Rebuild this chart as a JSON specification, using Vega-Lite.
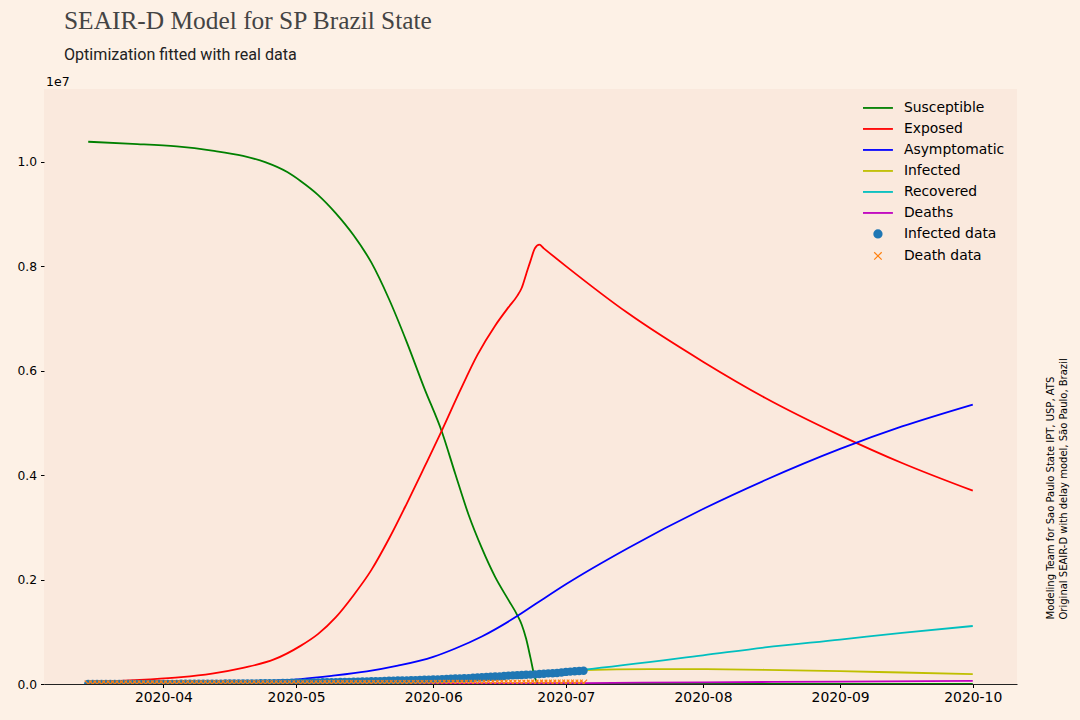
{
  "$schema": "https://vega.github.io/schema/vega-lite/v6.json",
  "width": 973,
  "height": 595,
  "autosize": {"type": "none"},
  "padding": {"left": 44, "top": 89, "right": 63, "bottom": 36},
  "background": "#fdf1e6",
  "config": {
    "view": {"fill": "#fae9dd", "stroke": null},
    "font": "DejaVu Sans",
    "axis": {"grid": false, "labelFont": "DejaVu Sans", "labelColor": "#000", "tickColor": "#000", "tickSize": 3.5, "tickWidth": 1}
  },
  "title": {
    "text": "SEAIR-D Model for SP Brazil State",
    "subtitle": "Optimization fitted with real data",
    "anchor": "start",
    "frame": "group",
    "dx": 20,
    "dy": -0.5,
    "offset": 12,
    "font": "Liberation Serif",
    "fontSize": 25.4,
    "fontWeight": "normal",
    "color": "#444444",
    "subtitleFont": "Roboto",
    "subtitleFontSize": 16.1,
    "subtitleColor": "#222222",
    "subtitlePadding": 13
  },
  "datasets": {
    "model": [
      {"date": "2020-03-15", "series": "Susceptible", "value": 10380000},
      {"date": "2020-03-25", "series": "Susceptible", "value": 10340000},
      {"date": "2020-04-04", "series": "Susceptible", "value": 10290000},
      {"date": "2020-04-12", "series": "Susceptible", "value": 10210000},
      {"date": "2020-04-19", "series": "Susceptible", "value": 10110000},
      {"date": "2020-04-24", "series": "Susceptible", "value": 9990000},
      {"date": "2020-04-29", "series": "Susceptible", "value": 9800000},
      {"date": "2020-05-02", "series": "Susceptible", "value": 9630000},
      {"date": "2020-05-06", "series": "Susceptible", "value": 9360000},
      {"date": "2020-05-10", "series": "Susceptible", "value": 9010000},
      {"date": "2020-05-14", "series": "Susceptible", "value": 8590000},
      {"date": "2020-05-18", "series": "Susceptible", "value": 8070000},
      {"date": "2020-05-22", "series": "Susceptible", "value": 7370000},
      {"date": "2020-05-26", "series": "Susceptible", "value": 6550000},
      {"date": "2020-05-30", "series": "Susceptible", "value": 5660000},
      {"date": "2020-06-03", "series": "Susceptible", "value": 4820000},
      {"date": "2020-06-06", "series": "Susceptible", "value": 4020000},
      {"date": "2020-06-09", "series": "Susceptible", "value": 3240000},
      {"date": "2020-06-12", "series": "Susceptible", "value": 2600000},
      {"date": "2020-06-15", "series": "Susceptible", "value": 2050000},
      {"date": "2020-06-18", "series": "Susceptible", "value": 1610000},
      {"date": "2020-06-20", "series": "Susceptible", "value": 1320000},
      {"date": "2020-06-21", "series": "Susceptible", "value": 1140000},
      {"date": "2020-06-22", "series": "Susceptible", "value": 870000},
      {"date": "2020-06-23", "series": "Susceptible", "value": 500000},
      {"date": "2020-06-24", "series": "Susceptible", "value": 120000},
      {"date": "2020-06-25", "series": "Susceptible", "value": 0},
      {"date": "2020-06-26", "series": "Susceptible", "value": 0},
      {"date": "2020-07-15", "series": "Susceptible", "value": 0},
      {"date": "2020-08-15", "series": "Susceptible", "value": 0},
      {"date": "2020-10-01", "series": "Susceptible", "value": 0},

      {"date": "2020-03-15", "series": "Exposed", "value": 40000},
      {"date": "2020-03-22", "series": "Exposed", "value": 57000},
      {"date": "2020-03-29", "series": "Exposed", "value": 87000},
      {"date": "2020-04-05", "series": "Exposed", "value": 130000},
      {"date": "2020-04-12", "series": "Exposed", "value": 200000},
      {"date": "2020-04-19", "series": "Exposed", "value": 310000},
      {"date": "2020-04-26", "series": "Exposed", "value": 470000},
      {"date": "2020-05-02", "series": "Exposed", "value": 730000},
      {"date": "2020-05-06", "series": "Exposed", "value": 960000},
      {"date": "2020-05-10", "series": "Exposed", "value": 1280000},
      {"date": "2020-05-14", "series": "Exposed", "value": 1700000},
      {"date": "2020-05-18", "series": "Exposed", "value": 2180000},
      {"date": "2020-05-22", "series": "Exposed", "value": 2780000},
      {"date": "2020-05-26", "series": "Exposed", "value": 3450000},
      {"date": "2020-05-30", "series": "Exposed", "value": 4150000},
      {"date": "2020-06-03", "series": "Exposed", "value": 4860000},
      {"date": "2020-06-07", "series": "Exposed", "value": 5600000},
      {"date": "2020-06-11", "series": "Exposed", "value": 6300000},
      {"date": "2020-06-15", "series": "Exposed", "value": 6860000},
      {"date": "2020-06-18", "series": "Exposed", "value": 7210000},
      {"date": "2020-06-20", "series": "Exposed", "value": 7430000},
      {"date": "2020-06-21", "series": "Exposed", "value": 7580000},
      {"date": "2020-06-22", "series": "Exposed", "value": 7840000},
      {"date": "2020-06-23", "series": "Exposed", "value": 8100000},
      {"date": "2020-06-24", "series": "Exposed", "value": 8340000},
      {"date": "2020-06-25", "series": "Exposed", "value": 8410000},
      {"date": "2020-06-26", "series": "Exposed", "value": 8340000},
      {"date": "2020-07-01", "series": "Exposed", "value": 8000000},
      {"date": "2020-07-15", "series": "Exposed", "value": 7100000},
      {"date": "2020-08-01", "series": "Exposed", "value": 6170000},
      {"date": "2020-08-15", "series": "Exposed", "value": 5480000},
      {"date": "2020-09-01", "series": "Exposed", "value": 4760000},
      {"date": "2020-09-15", "series": "Exposed", "value": 4230000},
      {"date": "2020-10-01", "series": "Exposed", "value": 3700000},

      {"date": "2020-03-15", "series": "Asymptomatic", "value": 0},
      {"date": "2020-04-01", "series": "Asymptomatic", "value": 8000},
      {"date": "2020-04-15", "series": "Asymptomatic", "value": 30000},
      {"date": "2020-05-02", "series": "Asymptomatic", "value": 95000},
      {"date": "2020-05-09", "series": "Asymptomatic", "value": 155000},
      {"date": "2020-05-17", "series": "Asymptomatic", "value": 240000},
      {"date": "2020-05-24", "series": "Asymptomatic", "value": 350000},
      {"date": "2020-06-01", "series": "Asymptomatic", "value": 520000},
      {"date": "2020-06-06", "series": "Asymptomatic", "value": 680000},
      {"date": "2020-06-12", "series": "Asymptomatic", "value": 910000},
      {"date": "2020-06-20", "series": "Asymptomatic", "value": 1300000},
      {"date": "2020-06-25", "series": "Asymptomatic", "value": 1580000},
      {"date": "2020-07-01", "series": "Asymptomatic", "value": 1910000},
      {"date": "2020-07-15", "series": "Asymptomatic", "value": 2600000},
      {"date": "2020-08-01", "series": "Asymptomatic", "value": 3350000},
      {"date": "2020-08-15", "series": "Asymptomatic", "value": 3900000},
      {"date": "2020-09-01", "series": "Asymptomatic", "value": 4500000},
      {"date": "2020-09-15", "series": "Asymptomatic", "value": 4930000},
      {"date": "2020-10-01", "series": "Asymptomatic", "value": 5350000},

      {"date": "2020-03-15", "series": "Infected", "value": 0},
      {"date": "2020-04-01", "series": "Infected", "value": 2000},
      {"date": "2020-04-15", "series": "Infected", "value": 9000},
      {"date": "2020-05-01", "series": "Infected", "value": 24000},
      {"date": "2020-05-15", "series": "Infected", "value": 45000},
      {"date": "2020-06-01", "series": "Infected", "value": 86000},
      {"date": "2020-06-15", "series": "Infected", "value": 142000},
      {"date": "2020-07-01", "series": "Infected", "value": 231000},
      {"date": "2020-07-05", "series": "Infected", "value": 268000},
      {"date": "2020-07-20", "series": "Infected", "value": 285000},
      {"date": "2020-08-01", "series": "Infected", "value": 284000},
      {"date": "2020-08-15", "series": "Infected", "value": 272000},
      {"date": "2020-09-01", "series": "Infected", "value": 245000},
      {"date": "2020-09-15", "series": "Infected", "value": 220000},
      {"date": "2020-10-01", "series": "Infected", "value": 190000},

      {"date": "2020-03-15", "series": "Recovered", "value": 0},
      {"date": "2020-04-01", "series": "Recovered", "value": 500},
      {"date": "2020-04-15", "series": "Recovered", "value": 3000},
      {"date": "2020-05-01", "series": "Recovered", "value": 10000},
      {"date": "2020-05-15", "series": "Recovered", "value": 28000},
      {"date": "2020-06-01", "series": "Recovered", "value": 70000},
      {"date": "2020-06-15", "series": "Recovered", "value": 140000},
      {"date": "2020-07-01", "series": "Recovered", "value": 240000},
      {"date": "2020-07-05", "series": "Recovered", "value": 275000},
      {"date": "2020-08-01", "series": "Recovered", "value": 550000},
      {"date": "2020-08-15", "series": "Recovered", "value": 700000},
      {"date": "2020-09-01", "series": "Recovered", "value": 850000},
      {"date": "2020-09-15", "series": "Recovered", "value": 980000},
      {"date": "2020-10-01", "series": "Recovered", "value": 1110000},

      {"date": "2020-03-15", "series": "Deaths", "value": 0},
      {"date": "2020-04-01", "series": "Deaths", "value": 200},
      {"date": "2020-05-01", "series": "Deaths", "value": 2500},
      {"date": "2020-06-01", "series": "Deaths", "value": 8000},
      {"date": "2020-07-01", "series": "Deaths", "value": 16000},
      {"date": "2020-07-05", "series": "Deaths", "value": 18000},
      {"date": "2020-08-01", "series": "Deaths", "value": 32000},
      {"date": "2020-09-01", "series": "Deaths", "value": 46000},
      {"date": "2020-10-01", "series": "Deaths", "value": 60000}
    ],
    "obs": [
      {"date": "2020-03-15", "cases": 100, "deaths": 0},
      {"date": "2020-03-16", "cases": 120, "deaths": 0},
      {"date": "2020-03-17", "cases": 130, "deaths": 1},
      {"date": "2020-03-18", "cases": 190, "deaths": 4},
      {"date": "2020-03-19", "cases": 230, "deaths": 7},
      {"date": "2020-03-20", "cases": 320, "deaths": 9},
      {"date": "2020-03-21", "cases": 370, "deaths": 15},
      {"date": "2020-03-22", "cases": 500, "deaths": 22},
      {"date": "2020-03-23", "cases": 600, "deaths": 30},
      {"date": "2020-03-24", "cases": 650, "deaths": 40},
      {"date": "2020-03-25", "cases": 690, "deaths": 48},
      {"date": "2020-03-26", "cases": 840, "deaths": 58},
      {"date": "2020-03-27", "cases": 980, "deaths": 68},
      {"date": "2020-03-28", "cases": 1130, "deaths": 84},
      {"date": "2020-03-29", "cases": 1160, "deaths": 98},
      {"date": "2020-03-30", "cases": 1220, "deaths": 113},
      {"date": "2020-03-31", "cases": 1870, "deaths": 136},
      {"date": "2020-04-01", "cases": 2380, "deaths": 164},
      {"date": "2020-04-02", "cases": 2800, "deaths": 188},
      {"date": "2020-04-03", "cases": 3240, "deaths": 219},
      {"date": "2020-04-04", "cases": 3580, "deaths": 260},
      {"date": "2020-04-05", "cases": 3700, "deaths": 275},
      {"date": "2020-04-06", "cases": 3900, "deaths": 304},
      {"date": "2020-04-07", "cases": 4540, "deaths": 371},
      {"date": "2020-04-08", "cases": 5370, "deaths": 428},
      {"date": "2020-04-09", "cases": 5980, "deaths": 496},
      {"date": "2020-04-10", "cases": 6000, "deaths": 540},
      {"date": "2020-04-11", "cases": 6580, "deaths": 560},
      {"date": "2020-04-12", "cases": 6740, "deaths": 588},
      {"date": "2020-04-13", "cases": 7010, "deaths": 608},
      {"date": "2020-04-14", "cases": 7500, "deaths": 695},
      {"date": "2020-04-15", "cases": 8800, "deaths": 778},
      {"date": "2020-04-16", "cases": 9300, "deaths": 853},
      {"date": "2020-04-17", "cases": 10200, "deaths": 928},
      {"date": "2020-04-18", "cases": 11100, "deaths": 991},
      {"date": "2020-04-19", "cases": 11400, "deaths": 1015},
      {"date": "2020-04-20", "cases": 11700, "deaths": 1037},
      {"date": "2020-04-21", "cases": 12300, "deaths": 1093},
      {"date": "2020-04-22", "cases": 12700, "deaths": 1134},
      {"date": "2020-04-23", "cases": 13400, "deaths": 1206},
      {"date": "2020-04-24", "cases": 15200, "deaths": 1345},
      {"date": "2020-04-25", "cases": 16000, "deaths": 1512},
      {"date": "2020-04-26", "cases": 16600, "deaths": 1667},
      {"date": "2020-04-27", "cases": 17400, "deaths": 1700},
      {"date": "2020-04-28", "cases": 19200, "deaths": 1825},
      {"date": "2020-04-29", "cases": 21000, "deaths": 2049},
      {"date": "2020-04-30", "cases": 23000, "deaths": 2247},
      {"date": "2020-05-01", "cases": 24000, "deaths": 2375},
      {"date": "2020-05-02", "cases": 25100, "deaths": 2511},
      {"date": "2020-05-03", "cases": 25900, "deaths": 2586},
      {"date": "2020-05-04", "cases": 26900, "deaths": 2627},
      {"date": "2020-05-05", "cases": 28600, "deaths": 2851},
      {"date": "2020-05-06", "cases": 30800, "deaths": 3045},
      {"date": "2020-05-07", "cases": 32500, "deaths": 3206},
      {"date": "2020-05-08", "cases": 34600, "deaths": 3416},
      {"date": "2020-05-09", "cases": 36100, "deaths": 3608},
      {"date": "2020-05-10", "cases": 36400, "deaths": 3709},
      {"date": "2020-05-11", "cases": 37500, "deaths": 3743},
      {"date": "2020-05-12", "cases": 39000, "deaths": 3949},
      {"date": "2020-05-13", "cases": 41700, "deaths": 4118},
      {"date": "2020-05-14", "cases": 43600, "deaths": 4315},
      {"date": "2020-05-15", "cases": 46700, "deaths": 4501},
      {"date": "2020-05-16", "cases": 49300, "deaths": 4688},
      {"date": "2020-05-17", "cases": 51000, "deaths": 4782},
      {"date": "2020-05-18", "cases": 52000, "deaths": 4823},
      {"date": "2020-05-19", "cases": 54000, "deaths": 5147},
      {"date": "2020-05-20", "cases": 55900, "deaths": 5363},
      {"date": "2020-05-21", "cases": 59000, "deaths": 5558},
      {"date": "2020-05-22", "cases": 61400, "deaths": 5773},
      {"date": "2020-05-23", "cases": 64300, "deaths": 6045},
      {"date": "2020-05-24", "cases": 66500, "deaths": 6163},
      {"date": "2020-05-25", "cases": 67700, "deaths": 6220},
      {"date": "2020-05-26", "cases": 69500, "deaths": 6423},
      {"date": "2020-05-27", "cases": 71600, "deaths": 6712},
      {"date": "2020-05-28", "cases": 75200, "deaths": 6980},
      {"date": "2020-05-29", "cases": 78200, "deaths": 7275},
      {"date": "2020-05-30", "cases": 81700, "deaths": 7532},
      {"date": "2020-05-31", "cases": 85000, "deaths": 7615},
      {"date": "2020-06-01", "cases": 86500, "deaths": 7667},
      {"date": "2020-06-02", "cases": 89200, "deaths": 7994},
      {"date": "2020-06-03", "cases": 93000, "deaths": 8276},
      {"date": "2020-06-04", "cases": 98000, "deaths": 8561},
      {"date": "2020-06-05", "cases": 103000, "deaths": 8860},
      {"date": "2020-06-06", "cases": 106000, "deaths": 9145},
      {"date": "2020-06-07", "cases": 107800, "deaths": 9162},
      {"date": "2020-06-08", "cases": 109200, "deaths": 9188},
      {"date": "2020-06-09", "cases": 112000, "deaths": 9522},
      {"date": "2020-06-10", "cases": 120000, "deaths": 9862},
      {"date": "2020-06-11", "cases": 125800, "deaths": 10145},
      {"date": "2020-06-12", "cases": 130000, "deaths": 10368},
      {"date": "2020-06-13", "cases": 134000, "deaths": 10581},
      {"date": "2020-06-14", "cases": 138000, "deaths": 10694},
      {"date": "2020-06-15", "cases": 142500, "deaths": 10767},
      {"date": "2020-06-16", "cases": 146000, "deaths": 11132},
      {"date": "2020-06-17", "cases": 153000, "deaths": 11521},
      {"date": "2020-06-18", "cases": 160000, "deaths": 11846},
      {"date": "2020-06-19", "cases": 166000, "deaths": 12232},
      {"date": "2020-06-20", "cases": 169000, "deaths": 12494},
      {"date": "2020-06-21", "cases": 173000, "deaths": 12588},
      {"date": "2020-06-22", "cases": 176000, "deaths": 12634},
      {"date": "2020-06-23", "cases": 180000, "deaths": 13068},
      {"date": "2020-06-24", "cases": 185000, "deaths": 13352},
      {"date": "2020-06-25", "cases": 191000, "deaths": 13759},
      {"date": "2020-06-26", "cases": 197000, "deaths": 14032},
      {"date": "2020-06-27", "cases": 203000, "deaths": 14263},
      {"date": "2020-06-28", "cases": 205000, "deaths": 14398},
      {"date": "2020-06-29", "cases": 210000, "deaths": 14638},
      {"date": "2020-06-30", "cases": 220000, "deaths": 14763},
      {"date": "2020-07-01", "cases": 231000, "deaths": 15030},
      {"date": "2020-07-02", "cases": 238000, "deaths": 15351},
      {"date": "2020-07-03", "cases": 244000, "deaths": 15694},
      {"date": "2020-07-04", "cases": 249000, "deaths": 15996},
      {"date": "2020-07-05", "cases": 254000, "deaths": 16078}
    ]
  },
  "layer": [
    {
      "data": {"name": "model"},
      "mark": {"type": "line", "strokeWidth": 1.8, "interpolate": "monotone", "clip": true},
      "encoding": {
        "x": {
          "field": "date",
          "type": "temporal",
          "scale": {
            "type": "utc",
            "domain": [
              {"year": 2020, "month": 3, "date": 5, "utc": true},
              {"year": 2020, "month": 10, "date": 11, "utc": true}
            ]
          },
          "axis": {
            "title": null,
            "values": [
              {"year": 2020, "month": 4, "date": 1, "utc": true},
              {"year": 2020, "month": 5, "date": 1, "utc": true},
              {"year": 2020, "month": 6, "date": 1, "utc": true},
              {"year": 2020, "month": 7, "date": 1, "utc": true},
              {"year": 2020, "month": 8, "date": 1, "utc": true},
              {"year": 2020, "month": 9, "date": 1, "utc": true},
              {"year": 2020, "month": 10, "date": 1, "utc": true}
            ],
            "format": "%Y-%m",
            "labelFontSize": 13.9,
            "labelPadding": 3,
            "labelFlush": false,
            "labelOverlap": false,
            "domainColor": "#222222",
            "domainWidth": 1.1
          }
        },
        "y": {
          "field": "value",
          "type": "quantitative",
          "scale": {"domain": [0, 11390000], "nice": false},
          "axis": {
            "values": [0, 2000000, 4000000, 6000000, 8000000, 10000000],
            "labelExpr": "format(datum.value / 10000000, '.1f')",
            "labelFontSize": 12.3,
            "labelPadding": 4,
            "domain": false,
            "title": "1e7",
            "titleAngle": 0,
            "titleAlign": "left",
            "titleBaseline": "alphabetic",
            "titleX": 1.5,
            "titleY": -3.5,
            "titleFont": "DejaVu Sans",
            "titleFontSize": 12.5,
            "titleFontWeight": "normal",
            "titleColor": "#000"
          }
        },
        "color": {
          "field": "series",
          "type": "nominal",
          "scale": {
            "domain": ["Susceptible", "Exposed", "Asymptomatic", "Infected", "Recovered", "Deaths", "Infected data", "Death data"],
            "range": ["#008000", "#ff0000", "#0000ff", "#bfbf00", "#00bfbf", "#bf00bf", "#1f77b4", "#ff7f0e"]
          },
          "legend": {
            "title": null,
            "orient": "none",
            "legendX": 819,
            "legendY": 12,
            "padding": 0,
            "symbolType": "stroke",
            "symbolSize": 56,
            "symbolStrokeWidth": 1.8,
            "symbolOpacity": 1,
            "symbolOffset": 8,
            "labelOffset": 19,
            "labelFont": "DejaVu Sans",
            "labelFontSize": 13.9,
            "labelColor": "#000",
            "rowPadding": 6,
            "encode": {
              "symbols": {
                "update": {
                  "shape": {"signal": "datum.value === 'Infected data' ? 'circle' : datum.value === 'Death data' ? 'M-1,-1L1,1M-1,1L1,-1' : 'M-4,0L4,0'"},
                  "fill": {"signal": "datum.value === 'Infected data' ? '#1f77b4' : 'transparent'"},
                  "stroke": {"signal": "scale('color', datum.value)"},
                  "strokeWidth": {"signal": "datum.value === 'Death data' ? 1.2 : 1.8"},
                  "opacity": {"value": 1}
                }
              }
            }
          }
        }
      }
    },
    {
      "data": {"name": "obs"},
      "mark": {"type": "point", "shape": "circle", "filled": true, "size": 70, "opacity": 1, "clip": true},
      "encoding": {
        "x": {"field": "date", "type": "temporal"},
        "y": {"field": "cases", "type": "quantitative", "scale": {"domain": [0, 11390000], "nice": false}, "axis": null},
        "color": {"datum": "Infected data", "type": "nominal"}
      }
    },
    {
      "data": {"name": "obs"},
      "mark": {"type": "point", "shape": "M-1,-1L1,1M-1,1L1,-1", "filled": false, "size": 50, "strokeWidth": 1.2, "opacity": 1, "clip": true},
      "encoding": {
        "x": {"field": "date", "type": "temporal"},
        "y": {
          "field": "deaths",
          "type": "quantitative",
          "scale": {"domain": [0, 11390000], "nice": false},
          "axis": {
            "orient": "right",
            "labels": false,
            "ticks": false,
            "domain": false,
            "title": ["Modeling Team for Sao Paulo State IPT, USP, ATS", "Original SEAIR-D with delay model, São Paulo, Brazil"],
            "titleAngle": 270,
            "titleAlign": "left",
            "titleBaseline": "middle",
            "titleX": 33,
            "titleY": 530,
            "titleFont": "DejaVu Sans",
            "titleFontSize": 10,
            "titleFontWeight": "normal",
            "titleLineHeight": 13,
            "titleColor": "#000"
          }
        },
        "color": {"datum": "Death data", "type": "nominal"}
      }
    }
  ],
  "resolve": {"axis": {"y": "independent"}}
}
